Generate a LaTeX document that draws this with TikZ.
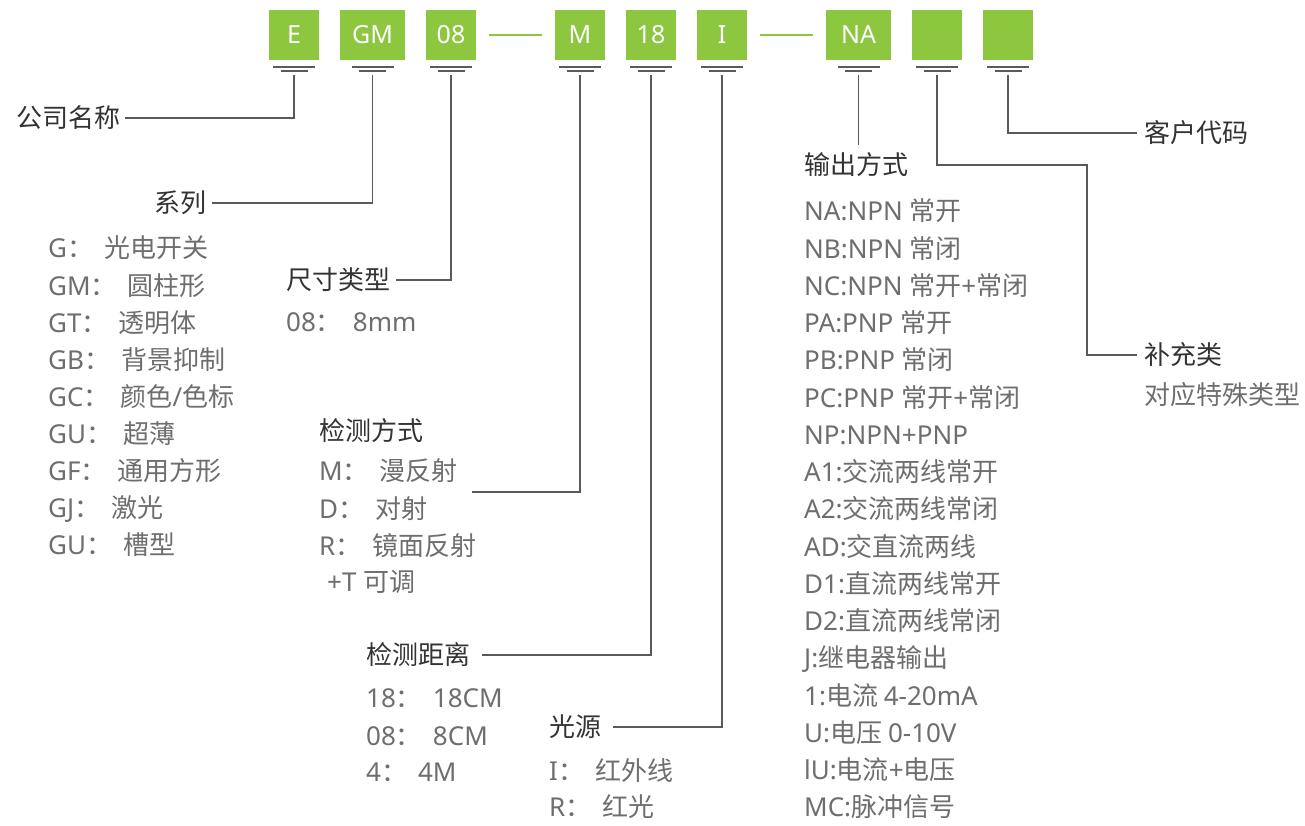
\documentclass[tikz,border=0pt]{standalone}
\usepackage{fontspec}
\setmainfont{Noto Sans}
\newfontfamily\cjkf{Noto Sans CJK SC}
\XeTeXinterchartokenstate=1
\newXeTeXintercharclass\CJKcls
\newcount\cjkcc
\cjkcc="3000
\loop
 \XeTeXcharclass\cjkcc=\CJKcls
 \ifnum\cjkcc<"9FFF \advance\cjkcc by 1
\repeat
\cjkcc="FF00
\loop
 \XeTeXcharclass\cjkcc=\CJKcls
 \ifnum\cjkcc<"FFEF \advance\cjkcc by 1
\repeat
\XeTeXinterchartoks 0 \CJKcls = {\cjkf}
\XeTeXinterchartoks 4095 \CJKcls = {\cjkf}
\XeTeXinterchartoks \CJKcls 0 = {\rmfamily}
\XeTeXinterchartoks 4095 0 = {\rmfamily}
\newcommand\kgap{\hspace{11pt}}
\definecolor{grn}{HTML}{8DC63F}
\definecolor{hd}{HTML}{333333}
\definecolor{it}{HTML}{6E6E6E}
\definecolor{ln}{HTML}{5A5A5A}
\begin{document}
\begin{tikzpicture}[x=1pt,y=-1pt,
  box/.style={fill=grn, minimum height=50pt, minimum width=50pt, inner sep=0, text=white, font=\fontsize{25}{25}\selectfont},
  hdr/.style={anchor=west, inner sep=0, text=hd, font=\fontsize{26}{30}\selectfont, text height=22.9pt, text depth=3.1pt},
  itm/.style={hdr, text=it},
  gnd/.style={draw=ln, line width=2pt},
  conn/.style={draw=ln, line width=1.3pt},
  dsh/.style={draw=grn, line width=2pt}]
\fill[white] (0,0) rectangle (1305,825);
\useasboundingbox (0,0) rectangle (1305,825);
% boxes
\node[box] (bE) at (294,35) {E};
\node[box, minimum width=65pt] (bGM) at (372.5,35) {GM};
\node[box] (b08) at (451,35) {08};
\node[box] (bM) at (580,35) {M};
\node[box] (b18) at (651,35) {18};
\node[box] (bI) at (722,35) {I};
\node[box, minimum width=65pt] (bNA) at (858.5,35) {NA};
\node[box] (bX) at (937,35) {};
\node[box] (bY) at (1008,35) {};
\draw[dsh] ([xshift=13pt]b08.east) -- ([xshift=-13pt]bM.west);
\draw[dsh] ([xshift=13pt]bI.east) -- ([xshift=-13pt]bNA.west);
% ground symbols
\foreach \b in {bE,bGM,b08,bM,b18,bI,bNA,bX,bY}{
  \draw[gnd] ([xshift=-21pt,yshift=-7pt]\b.south) -- ++(42,0);
  \draw[gnd] ([xshift=-13.5pt,yshift=-11pt]\b.south) -- ++(27,0);
}
% labels
\node[hdr] (lComp) at (16,118) {公司名称};
\node[hdr] (lSer) at (154,203) {系列};
\node[hdr] (lSize) at (286,280) {尺寸类型};
\node[hdr] (lDet) at (319,431) {检测方式};
\node[hdr] (lDist) at (366,655) {检测距离};
\node[hdr] (lSrc) at (549,727) {光源};
\node[hdr] (lOut) at (804,165) {输出方式};
\node[hdr] (lSup) at (1144,355) {补充类};
\node[hdr] (lCust) at (1144,133) {客户代码};
% series list
\foreach \t [count=\k from 0] in {{G：\kgap 光电开关},{GM：\kgap 圆柱形},{GT：\kgap 透明体},{GB：\kgap 背景抑制},{GC：\kgap 颜色/色标},{GU：\kgap 超薄},{GF：\kgap 通用方形},{GJ：\kgap 激光},{GU：\kgap 槽型}}
  \node[itm] (s\k) at (48,{248+37.1*\k}) {\t};
\node[itm] (z0) at (286,322) {08：\kgap 8mm};
\node[itm] (d0) at (319,471) {M：\kgap 漫反射};
\node[itm] (d1) at (319,509) {D：\kgap 对射};
\node[itm] (d2) at (319,546) {R：\kgap 镜面反射};
\node[itm] (d3) at (327,582) {+T 可调};
\node[itm] (r0) at (366,698) {18：\kgap 18CM};
\node[itm] (r1) at (366,736) {08：\kgap 8CM};
\node[itm] (r2) at (366,772) {4：\kgap 4M};
\node[itm] (g0) at (549,771) {I：\kgap 红外线};
\node[itm] (g1) at (549,807) {R：\kgap 红光};
\foreach \t [count=\k from 0] in {NA:NPN 常开,NB:NPN 常闭,NC:NPN 常开+常闭,PA:PNP 常开,PB:PNP 常闭,PC:PNP 常开+常闭,NP:NPN+PNP,A1:交流两线常开,A2:交流两线常闭,AD:交直流两线,D1:直流两线常开,D2:直流两线常闭,J:继电器输出,1:电流 4-20mA,U:电压 0-10V,lU:电流+电压,MC:脉冲信号}
  \node[itm] (o\k) at (804,{211+37.25*\k}) {\t};
\node[itm] (x0) at (1144,395) {对应特殊类型};
% connector ends
\coordinate (cDet) at (472,492);
\coordinate (cOut) at (858.5,145);
\coordinate (cSupT) at (1087,165);
% connectors
\draw[conn] ([yshift=-15pt]bE.south) |- ([xshift=5pt]lComp.east);
\draw[conn] ([yshift=-15pt]bGM.south) |- ([xshift=6pt]lSer.east);
\draw[conn] ([yshift=-15pt]b08.south) |- ([xshift=6pt]lSize.east);
\draw[conn] ([yshift=-15pt]bM.south) |- (cDet);
\draw[conn] ([yshift=-15pt]b18.south) |- ([xshift=12pt]lDist.east);
\draw[conn] ([yshift=-15pt]bI.south) |- ([xshift=12pt]lSrc.east);
\draw[conn] ([yshift=-15pt]bNA.south) -- (cOut);
\draw[conn] ([yshift=-15pt]bX.south) |- (cSupT) |- ([xshift=-7pt]lSup.west);
\draw[conn] ([yshift=-15pt]bY.south) |- ([xshift=-7pt]lCust.west);
\end{tikzpicture}
\end{document}
